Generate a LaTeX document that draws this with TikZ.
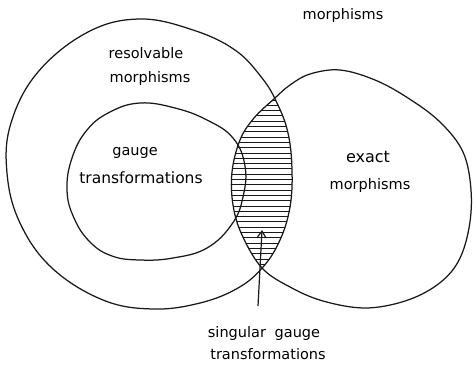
\documentclass[tikz,border=0pt]{standalone}
\usepackage{fontspec}
\setmainfont{DejaVu Sans}
\usetikzlibrary{arrows.meta}
\tikzset{
  outline/.style={draw=black!90, line width=1.25pt, line join=round},
  hatch/.style={draw=black!90, line width=1pt},
  lbl/.style={inner sep=0pt, font=\fontsize{14.5}{16}\selectfont, text=black},
  pointer/.style={draw=black!90, line width=1.2pt, -{Straight Barb[length=6pt,width=8pt]}}
}
\def\bigpath{plot[smooth cycle, tension=0.65] coordinates{(140,19) (193,30) (235,50) (262,78) (277,103) (288,133) (292,170) (290,207) (280,240) (263,267) (238,288) (200,303) (153,309) (103,300) (52,268) (20,223) (7,173) (11,123) (38,72) (88,32)}}
\def\rightpath{plot[smooth cycle, tension=0.6] coordinates{(340,70) (375,80) (408,98) (440,122) (463,152) (471,190) (469,228) (458,262) (437,285) (405,301) (365,308) (323,301) (290,287) (262,268) (242,235) (233,205) (232,172) (240,140) (254,118) (275,98) (290,85) (310,74)}}
\def\innerpath{plot[smooth cycle, tension=0.7] coordinates{(140,103) (175,108) (207,120) (233,138) (245,166) (243,197) (232,224) (207,248) (173,258) (140,260) (112,256) (90,242) (74,218) (67,190) (72,158) (87,130) (110,112)}}
\begin{document}
\begin{tikzpicture}[x=1pt, y=-1pt]
\useasboundingbox (0,0) rectangle (473,365);
% hatching of the lens
\begin{scope}
  \clip \bigpath;
  \clip \rightpath;
  \foreach \yy in {100,105.3,...,268} {
    \draw[hatch] (225,\yy) -- (300,\yy);
  }
\end{scope}
% outlines
\draw[outline] \bigpath;
\draw[outline] \rightpath;
\draw[outline] \innerpath;
% labels
\node[lbl] (univ) at (343,15) {morphisms};
\node[lbl] (res1) at (146,53) {resolvable};
\node[lbl] (res2) at (150,78) {morphisms};
\node[lbl] (gau1) at (135,153) {gauge};
\node[lbl, font=\fontsize{15.5}{17}\selectfont] (gau2) at (141,178) {transformations};
\node[lbl, font=\fontsize{16}{18}\selectfont] (ex1) at (368,157) {exact};
\node[lbl] (ex2) at (370,185) {morphisms};
\node[lbl] (sing1) at (264,333) {singular\hspace{0.6em}gauge};
\node[lbl] (sing2) at (268,354) {transformations};
% arrow
\coordinate (tail) at (258,306);
\coordinate (tip) at (262,230);
\draw[pointer] (tail) -- (tip);
\end{tikzpicture}
\end{document}
